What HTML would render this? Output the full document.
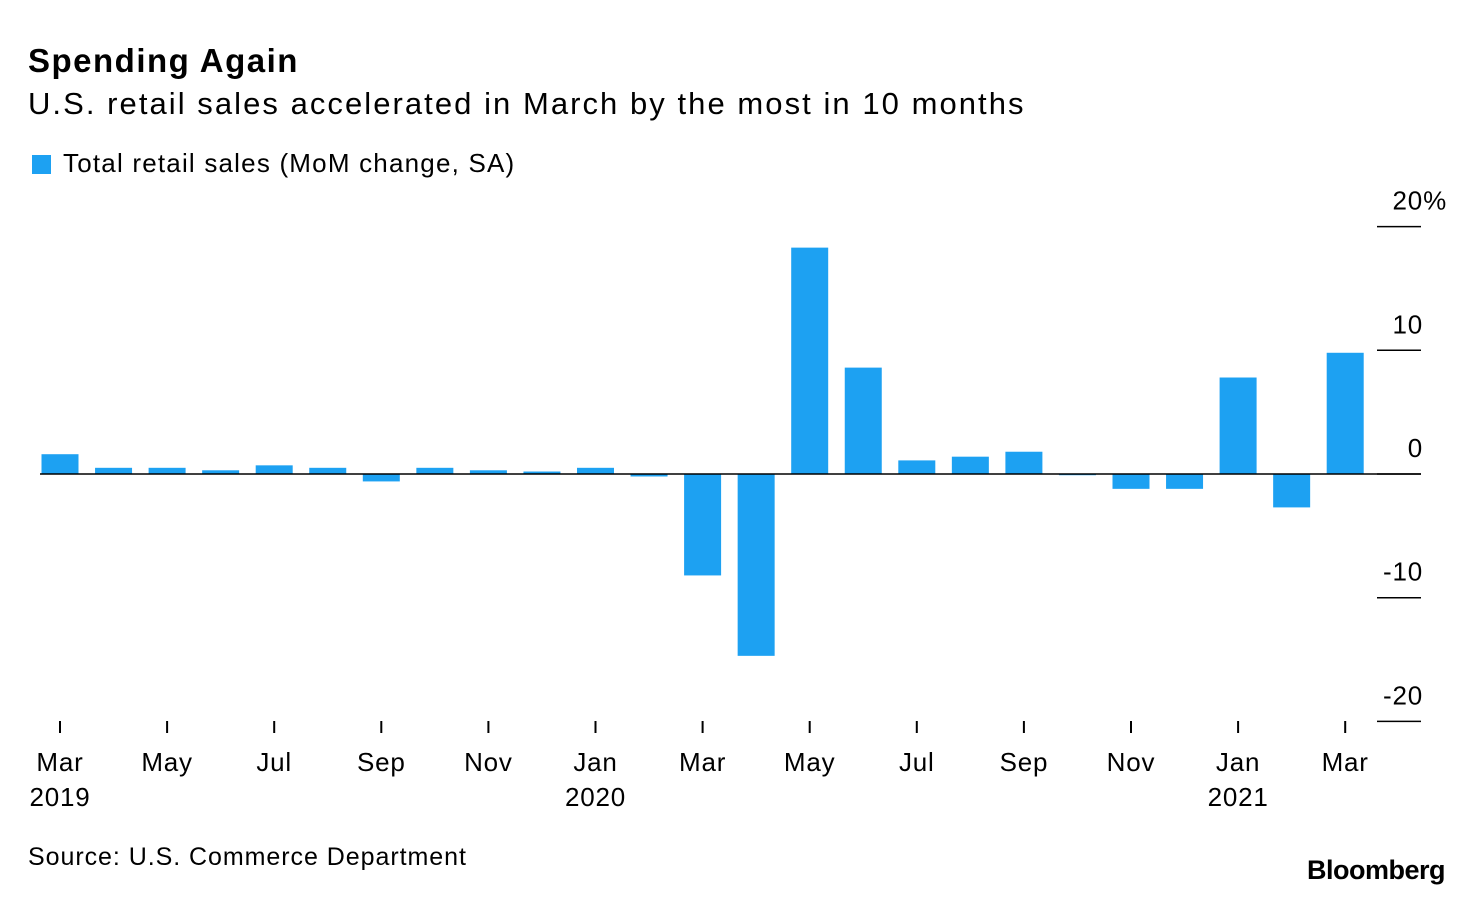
<!DOCTYPE html>
<html><head><meta charset="utf-8"><style>
body{margin:0;width:1476px;height:898px;background:#fff;font-family:"Liberation Sans",sans-serif;color:#000;position:relative;overflow:hidden}
.t{position:absolute;white-space:nowrap}
</style></head><body>
<div class="t" style="left:28px;top:42px;font-size:33px;font-weight:bold;letter-spacing:1.5px">Spending Again</div>
<div class="t" style="left:28px;top:86px;font-size:31px;letter-spacing:2.05px">U.S. retail sales accelerated in March by the most in 10 months</div>
<div class="t" style="left:32px;top:148px;font-size:26px;letter-spacing:1.2px"><span style="display:inline-block;width:19px;height:19px;background:#1da1f2;margin-right:12px;vertical-align:-2px"></span>Total retail sales (MoM change, SA)</div>
<svg id="chart" width="1476" height="898" style="position:absolute;left:0;top:0"></svg>
<div class="t" style="left:28px;top:843px;font-size:25px;letter-spacing:0.95px">Source: U.S. Commerce Department</div>
<div class="t" style="left:1307px;top:855px;font-size:27px;font-weight:bold;letter-spacing:-0.5px">Bloomberg</div>
<script>
const categories=["Mar 2019","Apr","May","Jun","Jul","Aug","Sep","Oct","Nov","Dec","Jan 2020","Feb","Mar","Apr","May","Jun","Jul","Aug","Sep","Oct","Nov","Dec","Jan 2021","Feb","Mar"];
const values=[1.6,0.5,0.5,0.3,0.7,0.5,-0.6,0.5,0.3,0.2,0.5,-0.2,-8.2,-14.7,18.3,8.6,1.1,1.4,1.8,-0.1,-1.2,-1.2,7.8,-2.7,9.8];
const yTicks=[20,10,0,-10,-20];
const yTickLabels=["20%","10","0","-10","-20"];
const xTickIdx=[0,2,4,6,8,10,12,14,16,18,20,22,24];
const xTickLabels=["Mar","May","Jul","Sep","Nov","Jan","Mar","May","Jul","Sep","Nov","Jan","Mar"];
const xYearLabels=["2019","","","","","2020","","","","","","2021",""];
const svg=document.getElementById('chart');
const NS='http://www.w3.org/2000/svg';
const y=v=>474-v*12.37;
const x=i=>60+i*53.55;
function mk(t,a){const e=document.createElementNS(NS,t);for(const k in a)e.setAttribute(k,a[k]);svg.appendChild(e);return e;}
yTicks.forEach((v,i)=>{
 const l=mk('line',{x1:1377,x2:1421,y1:y(v),y2:y(v),stroke:'#000','stroke-width':1.5});
 
 
 const t=mk('text',{x:i===0?1447:1423,y:y(v)-17,'text-anchor':'end','font-size':26,'letter-spacing':'0.8','font-family':'Liberation Sans, sans-serif'});
 t.textContent=yTickLabels[i];
 
 
});
values.forEach((v,i)=>{
 const r=mk('rect',{x:x(i)-18.5,width:37,y:Math.min(y(v),y(0)),height:Math.abs(y(v)-y(0)),fill:'#1da1f2'});
 
 
});
const z=mk('line',{x1:40,x2:1421,y1:y(0),y2:y(0),stroke:'#000','stroke-width':1.5});


xTickIdx.forEach((idx,j)=>{
 const tk=mk('line',{x1:x(idx),x2:x(idx),y1:721,y2:733,stroke:'#000','stroke-width':2});
 
 
 const t=mk('text',{x:x(idx),y:771,'text-anchor':'middle','font-size':26,'letter-spacing':'0.8','font-family':'Liberation Sans, sans-serif'});
 t.textContent=xTickLabels[j];
 
 
 if(xYearLabels[j]){
  const yt=mk('text',{x:x(idx),y:806,'text-anchor':'middle','font-size':26,'letter-spacing':'0.8','font-family':'Liberation Sans, sans-serif'});
  yt.textContent=xYearLabels[j];
  
  
 }
});
</script>
</body></html>
